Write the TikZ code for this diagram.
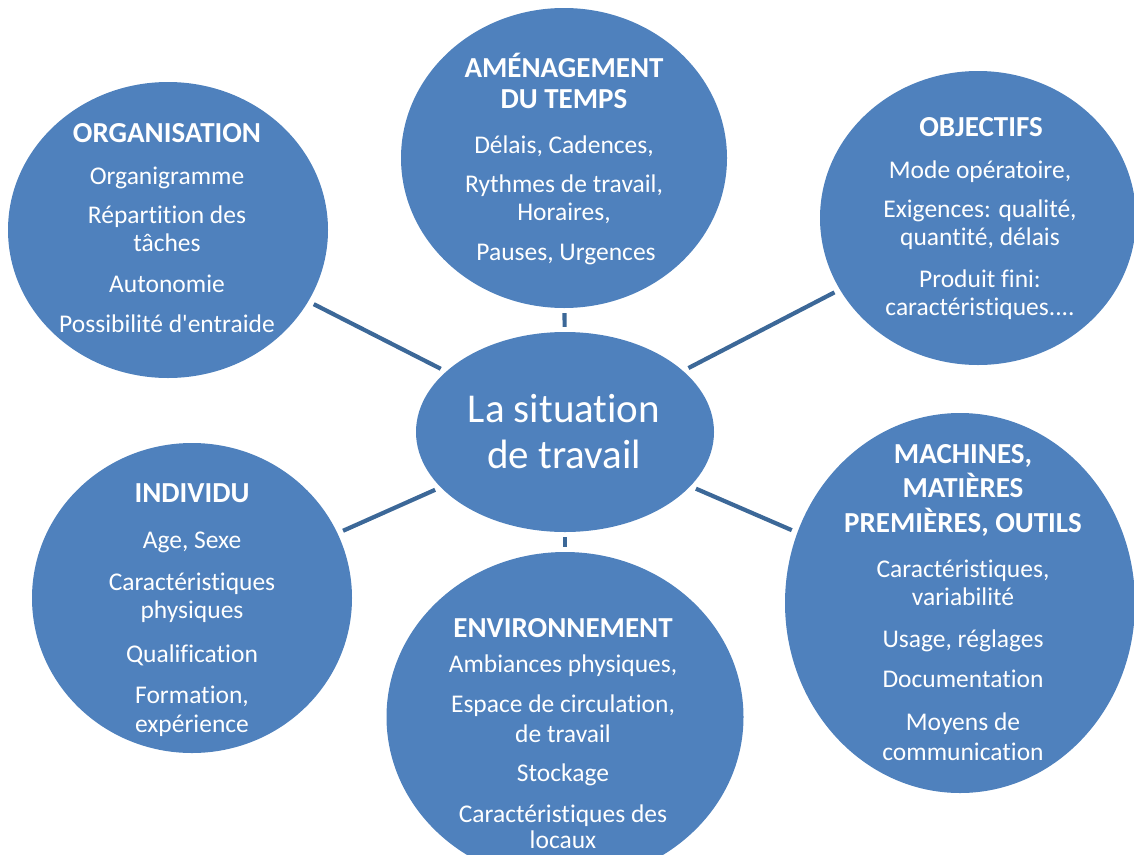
\documentclass[tikz,border=0pt]{standalone}
\usepackage{fontspec}
\setmainfont{Carlito}[Ligatures={TeXOff,CommonOff}]
\usetikzlibrary{shapes.geometric}
\definecolor{bubble}{HTML}{4F81BD}
\definecolor{link}{HTML}{3C6898}
\begin{document}
\begin{tikzpicture}[x=1pt,y=-1pt,
  bub/.style={ellipse, fill=bubble, draw=none, inner sep=0pt},
  conn/.style={draw=link, line width=4.2pt, shorten <=6pt, shorten >=6pt},
  ln/.style={anchor=base, text=white, inner sep=0pt, font=\fontsize{25.5}{30}\selectfont},
  ttl/.style={anchor=base, text=white, inner sep=0pt, font=\fontsize{29}{34}\selectfont\bfseries},
  big/.style={anchor=base, text=white, inner sep=0pt, font=\fontsize{41}{48}\selectfont}]
\clip (0,0) rectangle (1134,854);
% bubbles
\node[bub, minimum width=320pt, minimum height=296pt] (org) at (168,230) {};
\node[bub, minimum width=326pt, minimum height=300pt] (tps) at (564,158) {};
\node[bub, minimum width=316pt, minimum height=294pt] (obj) at (978,218) {};
\node[bub, minimum width=298pt, minimum height=200pt] (ctr) at (565,432) {};
\node[bub, minimum width=320pt, minimum height=310pt] (ind) at (192,598) {};
\node[bub, minimum width=357pt, minimum height=330pt] (env) at (565,717) {};
\node[bub, minimum width=350pt, minimum height=380pt] (mac) at (960,603) {};
% connectors
\draw[conn] (ctr) -- (org);
\draw[conn, shorten <=5pt, shorten >=5pt] (ctr) -- (tps);
\draw[conn] (ctr) -- (obj);
\draw[conn] (ctr) -- (ind);
\draw[conn, shorten <=5pt, shorten >=5pt] (ctr) -- (env);
\draw[conn] (ctr) -- (mac);
% centre
\node[big] (c1) at (564,422) {La situation};
\node[big] (c2) at (564,468) {de travail};
% organisation
\node[ttl] (org-t) at (167,142) {ORGANISATION};
\node[ln] (org-1) at (167,184) {Organigramme};
\node[ln] (org-2) at (167,223) {Répartition des};
\node[ln] (org-3) at (167,251) {tâches};
\node[ln] (org-4) at (167,292) {Autonomie};
\node[ln] (org-5) at (167,332) {Possibilité d'entraide};
% temps
\node[ttl] (tps-t1) at (564,77) {AMÉNAGEMENT};
\node[ttl] (tps-t2) at (564,108) {DU TEMPS};
\node[ln] (tps-1) at (564,153) {Délais, Cadences,};
\node[ln] (tps-2) at (564,192) {Rythmes de travail,};
\node[ln] (tps-3) at (564,220) {Horaires,};
\node[ln] (tps-4) at (566,260) {Pauses, Urgences};
% objectifs
\node[ttl] (obj-t) at (981,136) {OBJECTIFS};
\node[ln] (obj-1) at (980,178) {Mode opératoire,};
\node[ln] (obj-2) at (980,217) {Exigences: qualité,};
\node[ln] (obj-3) at (980,245) {quantité, délais};
\node[ln] (obj-4) at (980,287) {Produit fini:};
\node[ln] (obj-5) at (980,315) {caractéristiques....};
% individu
\node[ttl] (ind-t) at (192,502) {INDIVIDU};
\node[ln] (ind-1) at (192,548) {Age, Sexe};
\node[ln] (ind-2) at (192,590) {Caractéristiques};
\node[ln] (ind-3) at (192,618) {physiques};
\node[ln] (ind-4) at (192,662) {Qualification};
\node[ln] (ind-5) at (192,703) {Formation,};
\node[ln] (ind-6) at (192,732) {expérience};
% environnement
\node[ttl] (env-t) at (563,637) {ENVIRONNEMENT};
\node[ln] (env-1) at (563,672) {Ambiances physiques,};
\node[ln] (env-2) at (563,712) {Espace de circulation,};
\node[ln] (env-3) at (563,742) {de travail};
\node[ln] (env-4) at (563,781) {Stockage};
\node[ln] (env-5) at (563,822) {Caractéristiques des};
\node[ln] (env-6) at (563,848) {locaux};
% machines
\node[ttl] (mac-t1) at (963,463) {MACHINES,};
\node[ttl] (mac-t2) at (963,497) {MATIÈRES};
\node[ttl] (mac-t3) at (963,532) {PREMIÈRES, OUTILS};
\node[ln] (mac-1) at (963,577) {Caractéristiques,};
\node[ln] (mac-2) at (963,605) {variabilité};
\node[ln] (mac-3) at (963,647) {Usage, réglages};
\node[ln] (mac-4) at (963,687) {Documentation};
\node[ln] (mac-5) at (963,730) {Moyens de};
\node[ln] (mac-6) at (963,760) {communication};
\end{tikzpicture}
\end{document}
